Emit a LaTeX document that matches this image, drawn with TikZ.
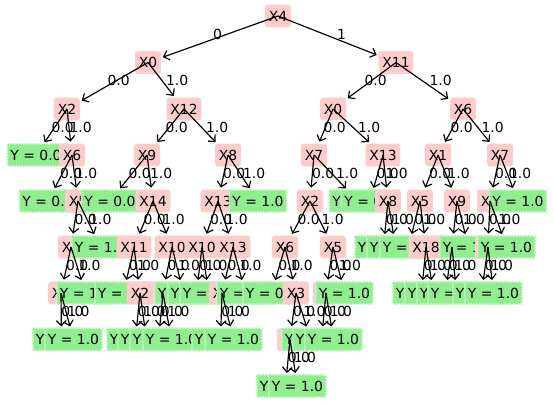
\documentclass[tikz,border=0pt]{standalone}
\usepackage{fontspec}
\setmainfont{DejaVu Sans}
\usetikzlibrary{arrows.meta,decorations.pathmorphing}
\definecolor{pinkbox}{HTML}{FFCCCC}
\definecolor{leafgreen}{HTML}{90EE90}
\tikzset{
  split/.style={fill=pinkbox, rounded corners=2.2pt, inner xsep=2.8pt, inner ysep=0pt,
    minimum height=16.5pt, text height=7.3pt, text depth=0pt},
  leaf/.style={fill=leafgreen, draw=white!55!leafgreen, line width=0.4pt,
    decorate, decoration={zigzag, segment length=2pt, amplitude=0.55pt},
    inner xsep=2.2pt, inner ysep=0pt, minimum height=16pt, text height=7.3pt, text depth=0pt},
  edge/.style={-{Straight Barb[length=3.6pt,width=7pt]}, line width=0.85pt, shorten >=1.2pt},
  lbl/.style={anchor=base west, inner sep=0pt, outer sep=0pt}
}
% arrow from parent to child, with the branch value at its midpoint
\newcommand\tedge[3]{%
  \draw[edge] (#1.center) -- (#2);
  \path (#1.center) -- node[lbl] {#3} (#2.center);}
\begin{document}
\begin{tikzpicture}[x=0.72pt, y=-0.72pt, font=\fontsize{10pt}{12pt}\selectfont]
\useasboundingbox (0,0) rectangle (554,403);
% depth 0
\node[split] (n0) at (278,16) {X4};
% depth 1
\node[split] (n1a) at (148,62.5) {X0};
\node[split] (n1b) at (396,62.5) {X11};
% depth 2
\node[split] (n2a) at (67,109) {X2};
\node[split] (n2b) at (184,109) {X12};
\node[split] (n2c) at (333,109) {X0};
\node[split] (n2d) at (463,109) {X6};
% depth 3
\node[leaf]  (l3a) at (36,155) {Y = 0.0};
\node[split] (n3a) at (72,155) {X6};
\node[split] (n3b) at (147,155) {X9};
\node[split] (n3c) at (228,155) {X8};
\node[split] (n3d) at (314,155) {X7};
\node[split] (n3e) at (383,155) {X13};
\node[split] (n3f) at (438,155) {X1};
\node[split] (n3g) at (500,155) {X7};
% depth 4
\node[leaf]  (l4a) at (48,201) {Y = 0.0};
\node[split] (n4a) at (78,201) {X5};
\node[leaf]  (l4b) at (110,201) {Y = 0.0};
\node[split] (n4b) at (153,201) {X14};
\node[split] (n4c) at (218,201) {X13};
\node[leaf]  (l4c) at (258,201) {Y = 1.0};
\node[split] (n4d) at (310,201) {X2};
\node[leaf]  (l4d) at (358,201) {Y = 1.0};
\node[leaf]  (l4e) at (370,201) {Y = 0.0};
\node[split] (n4e) at (388,201) {X8};
\node[split] (n4f) at (420,201) {X5};
\node[split] (n4g) at (457,201) {X9};
\node[split] (n4h) at (490,201) {X2};
\node[leaf]  (l4f) at (518,201) {Y = 1.0};
% depth 5
\node[split] (n5a) at (71,247) {X9};
\node[leaf]  (l5a) at (100.5,247) {Y = 1.0};
\node[split] (n5b) at (134,247) {X11};
\node[split] (n5c) at (172,247) {X10};
\node[split] (n5d) at (202,247) {X10};
\node[split] (n5e) at (233,247) {X13};
\node[split] (n5f) at (285,247) {X6};
\node[split] (n5g) at (333,247) {X5};
\node[leaf]  (l5b) at (383.5,247) {Y = 0.0};
\node[leaf]  (l5c) at (395.5,247) {Y = 1.0};
\node[leaf]  (l5d) at (408.5,247) {Y = 0.0};
\node[split] (n5h) at (426,247) {X18};
\node[split] (n5i) at (452,247) {X3};
\node[leaf]  (l5e) at (468.5,247) {Y = 1.0};
\node[split] (n5j) at (488,247) {X8};
\node[leaf]  (l5f) at (506.5,247) {Y = 1.0};
% depth 6
\node[split] (n6a) at (61,293) {X6};
\node[leaf]  (l6a) at (85.5,293) {Y = 1.0};
\node[leaf]  (l6b) at (123.5,293) {Y = 0.0};
\node[split] (n6b) at (140,293) {X2};
\node[split] (n6c) at (163,293) {X7};
\node[leaf]  (l6c) at (183.5,293) {Y = 1.0};
\node[leaf]  (l6d) at (196.5,293) {Y = 0.0};
\node[leaf]  (l6e) at (208.5,293) {Y = 1.0};
\node[split] (n6d) at (222,293) {X1};
\node[leaf]  (l6f) at (245.5,293) {Y = 0.0};
\node[leaf]  (l6g) at (271.5,293) {Y = 0.0};
\node[split] (n6e) at (296,293) {X3};
\node[split] (n6f) at (326,293) {X7};
\node[leaf]  (l6h) at (344.5,293) {Y = 1.0};
\node[leaf]  (l6i) at (421.5,293) {Y = 0.0};
\node[leaf]  (l6j) at (433.5,293) {Y = 1.0};
\node[leaf]  (l6k) at (445.5,293) {Y = 0.0};
\node[leaf]  (l6l) at (456.5,293) {Y = 1.0};
\node[leaf]  (l6m) at (481.5,293) {Y = 0.0};
\node[leaf]  (l6n) at (493.5,293) {Y = 1.0};
% depth 7
\node[leaf]  (l7a) at (61.5,339.5) {Y = 0.0};
\node[leaf]  (l7b) at (73.5,339.5) {Y = 1.0};
\node[leaf]  (l7c) at (135.5,339.5) {Y = 0.0};
\node[leaf]  (l7d) at (146.5,339.5) {Y = 1.0};
\node[leaf]  (l7e) at (158.5,339.5) {Y = 0.0};
\node[leaf]  (l7f) at (171.5,339.5) {Y = 1.0};
\node[leaf]  (l7g) at (220.5,339.5) {Y = 0.0};
\node[leaf]  (l7h) at (233.5,339.5) {Y = 1.0};
\node[split] (n7a) at (290,339.5) {X4};
\node[leaf]  (l7i) at (310.5,339.5) {Y = 0.0};
\node[leaf]  (l7j) at (321.5,339.5) {Y = 0.0};
\node[leaf]  (l7k) at (333.5,339.5) {Y = 1.0};
% depth 8
\node[leaf]  (l8a) at (285.5,386) {Y = 0.0};
\node[leaf]  (l8b) at (297.5,386) {Y = 1.0};
% branches
\tedge{n0}{n1a}{0} \tedge{n0}{n1b}{1}
\tedge{n1a}{n2a}{0.0} \tedge{n1a}{n2b}{1.0}
\tedge{n1b}{n2c}{0.0} \tedge{n1b}{n2d}{1.0}
\tedge{n2a}{l3a}{0.0} \tedge{n2a}{n3a}{1.0}
\tedge{n2b}{n3b}{0.0} \tedge{n2b}{n3c}{1.0}
\tedge{n2c}{n3d}{0.0} \tedge{n2c}{n3e}{1.0}
\tedge{n2d}{n3f}{0.0} \tedge{n2d}{n3g}{1.0}
\tedge{n3a}{l4a}{0.0} \tedge{n3a}{n4a}{1.0}
\tedge{n3b}{l4b}{0.0} \tedge{n3b}{n4b}{1.0}
\tedge{n3c}{n4c}{0.0} \tedge{n3c}{l4c}{1.0}
\tedge{n3d}{n4d}{0.0} \tedge{n3d}{l4d}{1.0}
\tedge{n3e}{l4e}{0.0} \tedge{n3e}{n4e}{1.0}
\tedge{n3f}{n4f}{0.0} \tedge{n3f}{n4g}{1.0}
\tedge{n3g}{n4h}{0.0} \tedge{n3g}{l4f}{1.0}
\tedge{n4a}{n5a}{0.0} \tedge{n4a}{l5a}{1.0}
\tedge{n4b}{n5b}{0.0} \tedge{n4b}{n5c}{1.0}
\tedge{n4c}{n5d}{0.0} \tedge{n4c}{n5e}{1.0}
\tedge{n4d}{n5f}{0.0} \tedge{n4d}{n5g}{1.0}
\tedge{n4e}{l5b}{0.0} \tedge{n4e}{l5c}{1.0}
\tedge{n4f}{l5d}{0.0} \tedge{n4f}{n5h}{1.0}
\tedge{n4g}{n5i}{0.0} \tedge{n4g}{l5e}{1.0}
\tedge{n4h}{n5j}{0.0} \tedge{n4h}{l5f}{1.0}
\tedge{n5a}{n6a}{0.0} \tedge{n5a}{l6a}{1.0}
\tedge{n5b}{l6b}{0.0} \tedge{n5b}{n6b}{1.0}
\tedge{n5c}{n6c}{0.0} \tedge{n5c}{l6c}{1.0}
\tedge{n5d}{l6d}{0.0} \tedge{n5d}{l6e}{1.0}
\tedge{n5e}{n6d}{0.0} \tedge{n5e}{l6f}{1.0}
\tedge{n5f}{l6g}{0.0} \tedge{n5f}{n6e}{1.0}
\tedge{n5g}{n6f}{0.0} \tedge{n5g}{l6h}{1.0}
\tedge{n5h}{l6i}{0.0} \tedge{n5h}{l6j}{1.0}
\tedge{n5i}{l6k}{0.0} \tedge{n5i}{l6l}{1.0}
\tedge{n5j}{l6m}{0.0} \tedge{n5j}{l6n}{1.0}
\tedge{n6a}{l7a}{0.0} \tedge{n6a}{l7b}{1.0}
\tedge{n6b}{l7c}{0.0} \tedge{n6b}{l7d}{1.0}
\tedge{n6c}{l7e}{0.0} \tedge{n6c}{l7f}{1.0}
\tedge{n6d}{l7g}{0.0} \tedge{n6d}{l7h}{1.0}
\tedge{n6e}{n7a}{0.0} \tedge{n6e}{l7i}{1.0}
\tedge{n6f}{l7j}{0.0} \tedge{n6f}{l7k}{1.0}
\tedge{n7a}{l8a}{0.0} \tedge{n7a}{l8b}{1.0}
\end{tikzpicture}
\end{document}
